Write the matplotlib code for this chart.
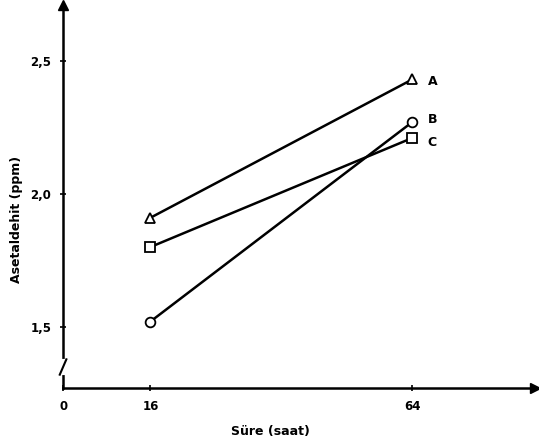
import matplotlib.pyplot as plt

hours = [16, 64]
series_a = [1.91, 2.43]
series_b = [1.52, 2.27]
series_c = [1.80, 2.21]
names = ["A", "B", "C"]
markers = ["^", "o", "s"]
y_ticks = [1.5, 2.0, 2.5]
y_tick_labels = ["1,5", "2,0", "2,5"]
x_ticks = [0, 16, 64]

fig = plt.figure(figsize=(5.39, 4.41), dpi=100)
ax = fig.add_axes([0.117, 0.12, 0.876, 0.869])

ax.set_xlim(0, 86.5)
ax.set_ylim(1.27, 2.71)

for vals, name, m in zip([series_a, series_b, series_c], names, markers):
    ax.plot(hours, vals, color="black", lw=1.8, marker=m, ms=7,
            mfc="white", mec="black", mew=1.3, zorder=3)

# series letters at the right-hand end
offsets = {"A": (11, -1.5), "B": (11, 1.5), "C": (11, -3.5)}
for vals, name in zip([series_a, series_b, series_c], names):
    ax.annotate(name, (hours[-1], vals[-1]), xytext=offsets[name],
                textcoords="offset points", fontsize=9, fontweight="bold",
                va="center", ha="left")

for s in ["top", "right"]:
    ax.spines[s].set_visible(False)
ax.spines["left"].set_linewidth(1.8)
ax.spines["bottom"].set_linewidth(1.8)

# arrow heads
ax.plot(1, 0, ">", color="black", ms=7, transform=ax.transAxes, clip_on=False)
ax.plot(0, 1, "^", color="black", ms=7, transform=ax.transAxes, clip_on=False)

# axis break mark
ax.plot([0, 0], [0.04, 0.07], color="white", lw=3, transform=ax.transAxes,
        clip_on=False, zorder=4)
ax.plot([-0.007, 0.007], [0.035, 0.075], color="black", lw=1.5,
        transform=ax.transAxes, clip_on=False, zorder=5)

ax.set_yticks(y_ticks)
ax.set_yticklabels(y_tick_labels, fontsize=8.5, fontweight="bold")
ax.set_xticks(x_ticks)
ax.set_xticklabels([str(t) for t in x_ticks], fontsize=8.5, fontweight="bold")
ax.tick_params(axis="both", direction="inout", length=5, width=1.2, pad=6)

ax.set_ylabel("Asetaldehit (ppm)", fontsize=9, fontweight="bold")
ax.yaxis.set_label_coords(-0.085, 0.44)
ax.set_xlabel("Süre (saat)", fontsize=9, fontweight="bold")
ax.xaxis.set_label_coords(0.44, -0.097)

fig.savefig("out.png", dpi=100)
